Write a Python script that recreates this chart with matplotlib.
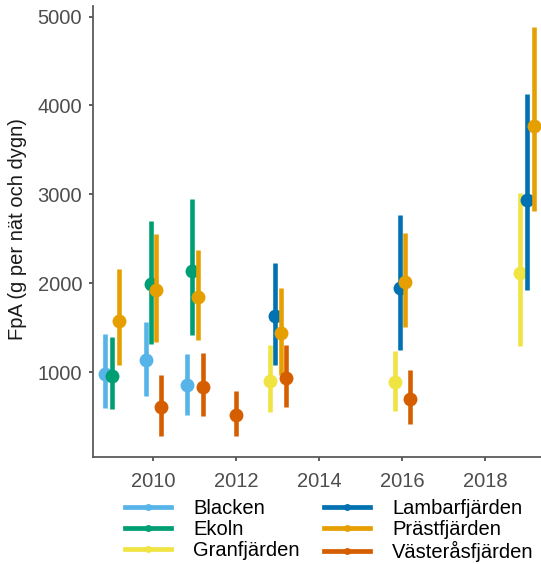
import matplotlib
matplotlib.use("Agg")
import matplotlib.pyplot as plt
from matplotlib.lines import Line2D
import numpy as np

plt.rcParams["font.family"] = ["Liberation Sans", "DejaVu Sans"]

nan = np.nan
years = [2009, 2010, 2011, 2012, 2013, 2016, 2019]
lakes = ["Blacken", "Ekoln", "Granfjärden", "Lambarfjärden", "Prästfjärden", "Västeråsfjärden"]
colors = ["#56B4E9", "#009E73", "#F0E442", "#0072B2", "#E69F00", "#D55E00"]

# FpA mean and interval per lake and year (nan = not fished)
blacken_mean = [981, 1138, 857, nan, nan, nan, nan]
blacken_lo = [595, 733, 520, nan, nan, nan, nan]
blacken_hi = [1427, 1566, 1202, nan, nan, nan, nan]

ekoln_mean = [951, 1990, 2139, nan, nan, nan, nan]
ekoln_lo = [584, 1318, 1412, nan, nan, nan, nan]
ekoln_hi = [1394, 2705, 2949, nan, nan, nan, nan]

gran_mean = [nan, nan, nan, nan, 902, 894, 2120]
gran_lo = [nan, nan, nan, nan, 546, 568, 1299]
gran_hi = [nan, nan, nan, nan, 1307, 1243, 3020]

lambar_mean = [nan, nan, nan, nan, 1633, 1945, 2938]
lambar_lo = [nan, nan, nan, nan, 1082, 1251, 1926]
lambar_hi = [nan, nan, nan, nan, 2226, 2762, 4127]

prast_mean = [1580, 1926, 1850, nan, 1439, 2012, 3774]
prast_lo = [1082, 1344, 1363, nan, 970, 1513, 2818]
prast_hi = [2165, 2552, 2376, nan, 1945, 2564, 4888]

vast_mean = [nan, 606, 838, 512, 939, 696, nan]
vast_lo = [nan, 276, 501, 276, 613, 415, nan]
vast_hi = [nan, 962, 1220, 790, 1307, 1026, nan]

means = np.array([blacken_mean, ekoln_mean, gran_mean, lambar_mean, prast_mean, vast_mean], dtype=float)
lows = np.array([blacken_lo, ekoln_lo, gran_lo, lambar_lo, prast_lo, vast_lo], dtype=float)
highs = np.array([blacken_hi, ekoln_hi, gran_hi, lambar_hi, prast_hi, vast_hi], dtype=float)

# dodge the lakes sampled the same year side by side
dodge_width = 0.5
xpos = np.full(means.shape, nan)
for j, yr in enumerate(years):
    present = [i for i in range(len(lakes)) if not np.isnan(means[i, j])]
    n = len(present)
    for k, i in enumerate(present):
        xpos[i, j] = yr + (k - (n - 1) / 2) * dodge_width / n

fig = plt.figure(figsize=(5.41, 5.64), dpi=100)
ax = fig.add_axes([0.1725, 0.1897, 0.8275, 0.7997])

for i, lake in enumerate(lakes):
    ok = ~np.isnan(means[i])
    ax.vlines(xpos[i, ok], lows[i, ok], highs[i, ok], color=colors[i], linewidth=3.3, zorder=2 + i)
    ax.plot(xpos[i, ok], means[i, ok], "o", color=colors[i], markersize=10,
            markeredgewidth=0, zorder=2 + i)

ax.set_xlim(2008.55, 2019.34)
ax.set_ylim(45, 5119)
ax.set_xticks([2010, 2012, 2014, 2016, 2018])
ax.set_yticks([1000, 2000, 3000, 4000, 5000])

for side in ["top", "right"]:
    ax.spines[side].set_visible(False)
for side in ["left", "bottom"]:
    ax.spines[side].set_color("#5a5a5a")
    ax.spines[side].set_linewidth(1.3)
ax.tick_params(axis="both", colors="#333333", length=3, width=1.1,
               labelsize=14.5, labelcolor="#4D4D4D", pad=5)
ax.tick_params(axis="x", pad=8)

ax.set_ylabel("FpA (g per nät och dygn)", fontsize=14.5, color="#1a1a1a")
ax.yaxis.set_label_coords(-0.149, 0.505)

handles = [Line2D([0], [0], color=c, linewidth=3.4, marker="o", markersize=5, markeredgewidth=0)
           for c in colors]
fig.legend(handles, lakes, ncol=2, loc="upper left", bbox_to_anchor=(125 / 541, 1 - 499 / 564),
           frameon=False, fontsize=14.5, handlelength=2.27, handletextpad=1.12,
           columnspacing=1.2, labelspacing=0.09, borderpad=0, borderaxespad=0)

fig.savefig("out.png", dpi=100)
